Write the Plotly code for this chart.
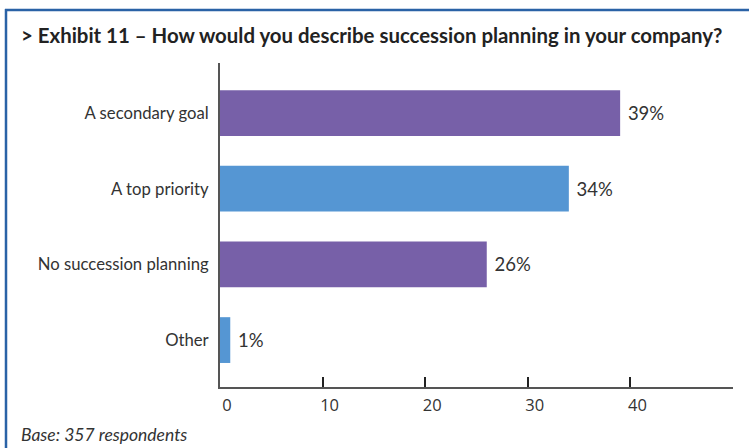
import plotly.graph_objects as go

# Survey answers, top to bottom
categories = ["A secondary goal", "A top priority", "No succession planning", "Other"]
shares = [39, 34, 26, 1]
bar_colors = ["#7760a8", "#5596d3", "#7760a8", "#5596d3"]

tick_values = [0, 10, 20, 30, 40, 50]
tick_labels = ["0", "10", "20", "30", "40", ""]

title_text = "<b>&gt; Exhibit 11 – How would you describe succession planning in your company?</b>"
base_text = "<i>Base: 357 respondents</i>"

W, H = 749, 448
L, R, T, B = 220, 16, 63, 61
pw, ph = W - L - R, H - T - B


def px_to_paper_x(px):
    return (px - L) / pw


def px_to_paper_y(py):
    return (H - B - py) / ph


font_main = "Lato, 'Open Sans', sans-serif"
frame_blue = "#2a62a6"
text_color = "#333333"
axis_color = "#555555"

fig = go.Figure(
    go.Bar(
        x=shares,
        y=categories,
        orientation="h",
        marker=dict(color=bar_colors, line=dict(width=0)),
        width=0.605,
        text=[f" {v}%" for v in shares],
        textposition="outside",
        textfont=dict(family=font_main, size=18.5, color=text_color),
        cliponaxis=False,
        hoverinfo="skip",
    )
)

fig.update_layout(
    width=W,
    height=H,
    margin=dict(l=L, r=R, t=T, b=B),
    paper_bgcolor="white",
    plot_bgcolor="white",
    showlegend=False,
    font=dict(family=font_main, color=text_color),
    xaxis=dict(
        range=[0, 50],
        tickvals=tick_values,
        ticktext=tick_labels,
        ticks="inside",
        ticklen=10,
        tickwidth=1.5,
        tickcolor="#222222",
        showline=True,
        linecolor=axis_color,
        linewidth=2,
        showgrid=False,
        zeroline=False,
        tickfont=dict(family="'Open Sans', sans-serif", size=16.5, color=text_color),
        ticklabelshift=7,
        ticklabelstandoff=2,
        fixedrange=True,
    ),
    yaxis=dict(
        categoryorder="array",
        categoryarray=categories,
        range=[3.62, -0.661],
        showline=True,
        linecolor=axis_color,
        linewidth=2,
        showgrid=False,
        zeroline=False,
        ticks="",
        ticklabelstandoff=6,
        tickfont=dict(family=font_main, size=16.7, color=text_color),
        fixedrange=True,
    ),
)

# Blue frame: top rule and left rule
fig.add_shape(
    type="line", xref="paper", yref="paper",
    x0=px_to_paper_x(5), x1=px_to_paper_x(W + 5),
    y0=px_to_paper_y(10), y1=px_to_paper_y(10),
    line=dict(color=frame_blue, width=2.5),
)
fig.add_shape(
    type="line", xref="paper", yref="paper",
    x0=px_to_paper_x(6), x1=px_to_paper_x(6),
    y0=px_to_paper_y(9), y1=px_to_paper_y(H + 5),
    line=dict(color=frame_blue, width=2.5),
)

fig.add_annotation(
    text=title_text, xref="paper", yref="paper",
    x=px_to_paper_x(19), y=px_to_paper_y(35),
    xanchor="left", yanchor="middle", showarrow=False,
    font=dict(family=font_main, size=20.4, color="#222222"),
)
fig.add_annotation(
    text=base_text, xref="paper", yref="paper",
    x=px_to_paper_x(19), y=px_to_paper_y(434),
    xanchor="left", yanchor="middle", showarrow=False,
    font=dict(family=font_main, size=17.5, color=text_color),
)

fig.write_html("out.html")
